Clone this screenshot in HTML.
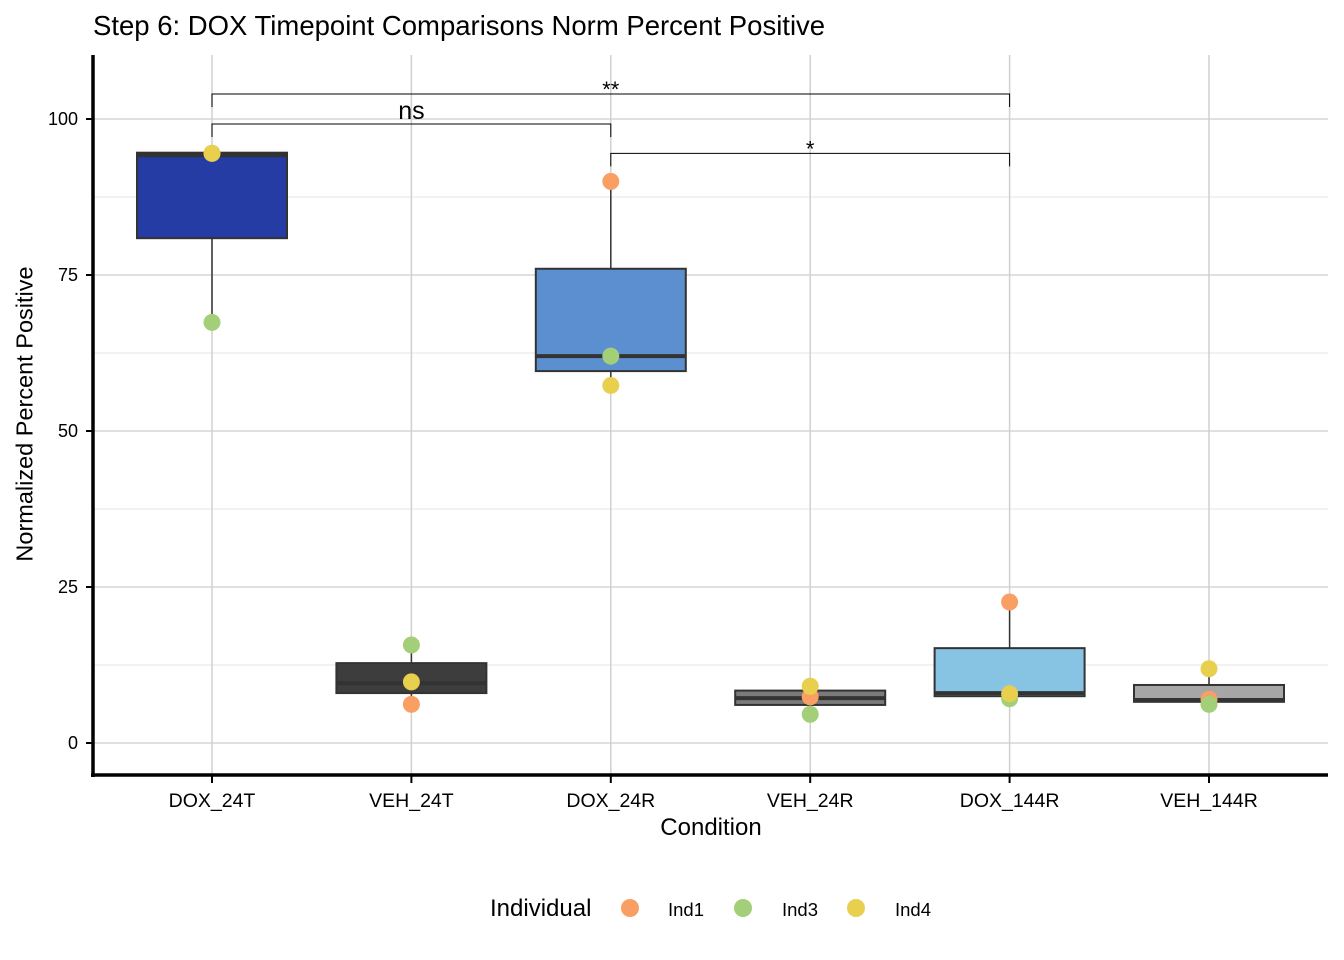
<!DOCTYPE html>
<html><head><meta charset="utf-8"><style>
html,body{margin:0;padding:0;background:#fff;}
svg{display:block;font-family:"Liberation Sans",Arial,sans-serif;}
</style></head><body>
<svg id="chart" width="1344" height="960"></svg>
<script>
const categories=["DOX_24T","VEH_24T","DOX_24R","VEH_24R","DOX_144R","VEH_144R"];
const q1=[80.9,8.0,59.6,6.1,7.5,6.6];
const medians=[94.2,9.6,62.0,7.2,8.0,6.9];
const q3=[94.6,12.8,76.0,8.4,15.2,9.3];
const whiskerLow=[67.3,6.2,57.3,6.1,7.1,6.2];
const whiskerHigh=[94.6,15.7,90.0,9.1,22.6,11.9];
const fills=["#263ca5","#3d3d3d","#5b8fd0","#7a7a7a","#87c4e4","#a6a6a6"];
const ind1=[94.5,6.2,90.0,7.4,22.6,7.0];
const ind3=[67.4,15.7,62.0,4.6,7.1,6.2];
const ind4=[94.5,9.8,57.3,9.1,7.9,11.9];
const yTicks=[0,25,50,75,100];
const individuals=["Ind1","Ind3","Ind4"];
const indColors=["#f99f64","#a2cf77","#e8cf4d"];
const brackets=[{from:0,to:2,y:99.2,label:"ns"},{from:0,to:4,y:104,label:"**"},{from:2,to:4,y:94.5,label:"*"}];

const NS="http://www.w3.org/2000/svg";
const svg=document.getElementById('chart');
function mk(t,a,p){const e=document.createElementNS(NS,t);for(const k in a)e.setAttribute(k,a[k]);(p||svg).appendChild(e);return e;}
const L=93,R=1328,T=55,B=775;
const y=v=>743-v*6.24;
const x=i=>212+i*199.4;
const hw=75;

const grid=mk('g',{});


for(let v=-12.5;v<=112.5;v+=25){const yy=y(v);if(yy>T&&yy<B)mk('line',{x1:L,x2:R,y1:yy,y2:yy,stroke:'#ebebeb','stroke-width':1.2},grid);}
yTicks.forEach(v=>mk('line',{x1:L,x2:R,y1:y(v),y2:y(v),stroke:'#d6d6d6','stroke-width':1.5},grid));
categories.forEach((c,i)=>mk('line',{x1:x(i),x2:x(i),y1:T,y2:B,stroke:'#d0d0d0','stroke-width':1.5},grid));

categories.forEach((c,i)=>{
  const g=mk('g',{});
  
  
  mk('line',{x1:x(i),x2:x(i),y1:y(whiskerHigh[i]),y2:y(q3[i]),stroke:'#333','stroke-width':1.5},g);
  mk('line',{x1:x(i),x2:x(i),y1:y(q1[i]),y2:y(whiskerLow[i]),stroke:'#333','stroke-width':1.5},g);
  mk('rect',{x:x(i)-hw,y:y(q3[i]),width:2*hw,height:Math.max(0.5,y(q1[i])-y(q3[i])),fill:fills[i],stroke:'#333','stroke-width':2},g);
  mk('line',{x1:x(i)-hw,x2:x(i)+hw,y1:y(medians[i]),y2:y(medians[i]),stroke:'#333','stroke-width':4},g);
});

[ind1,ind3,ind4].forEach((arr,k)=>{
  arr.forEach((v,i)=>{
    const c=mk('circle',{cx:x(i),cy:y(v),r:8.5,fill:indColors[k]});
    
    
  });
});

brackets.forEach(b=>{
  const g=mk('g',{});
  
  
  const yy=y(b.y);
  mk('path',{d:`M${x(b.from)} ${yy+13}V${yy}H${x(b.to)}V${yy+13}`,fill:'none',stroke:'#000','stroke-width':1},g);
  const t=mk('text',{x:(x(b.from)+x(b.to))/2,y:b.label==='ns'?yy-5:yy+3,'text-anchor':'middle','font-size':b.label==='ns'?25:22},g);
  t.textContent=b.label;
});

const ax=mk('g',{});


mk('line',{x1:L,x2:L,y1:T,y2:B+2,stroke:'#000','stroke-width':3.5},ax);
mk('line',{x1:L-2,x2:R,y1:B,y2:B,stroke:'#000','stroke-width':3.5},ax);
yTicks.forEach(v=>{
  mk('line',{x1:L-7,x2:L,y1:y(v),y2:y(v),stroke:'#000','stroke-width':2},ax);
  const t=mk('text',{x:L-15,y:y(v)+6,'text-anchor':'end','font-size':18,fill:'#000'},ax);t.textContent=v;
});
categories.forEach((c,i)=>{
  mk('line',{x1:x(i),x2:x(i),y1:B,y2:B+8,stroke:'#000','stroke-width':2},ax);
  const t=mk('text',{x:x(i),y:807,'text-anchor':'middle','font-size':19.5},ax);t.textContent=c;
});
</script>
<div style="position:absolute;left:0;top:0;width:1344px;height:960px;pointer-events:none;font-family:'Liberation Sans',Arial,sans-serif;">
<div style="position:absolute;left:93px;top:10px;font-size:27.5px;white-space:nowrap;">Step 6: DOX Timepoint Comparisons Norm Percent Positive</div>
<div style="position:absolute;left:561px;width:300px;text-align:center;top:814px;font-size:24px;">Condition</div>
<div style="position:absolute;left:25px;top:414px;transform:translate(-50%,-50%) rotate(-90deg);white-space:nowrap;font-size:23.5px;">Normalized Percent Positive</div>
<div style="position:absolute;left:0;top:0;">
<span style="position:absolute;left:490px;top:895px;font-size:24px;white-space:nowrap;">Individual</span>
<span><span style="position:absolute;left:621px;top:899px;width:18px;height:18px;border-radius:50%;background:#f99f64;"></span><span style="position:absolute;left:668px;top:899px;font-size:18.5px;">Ind1</span></span>
<span><span style="position:absolute;left:734px;top:899px;width:18px;height:18px;border-radius:50%;background:#a2cf77;"></span><span style="position:absolute;left:782px;top:899px;font-size:18.5px;">Ind3</span></span>
<span><span style="position:absolute;left:847px;top:899px;width:18px;height:18px;border-radius:50%;background:#e8cf4d;"></span><span style="position:absolute;left:895px;top:899px;font-size:18.5px;">Ind4</span></span>
</div>
</div>
</body></html>
